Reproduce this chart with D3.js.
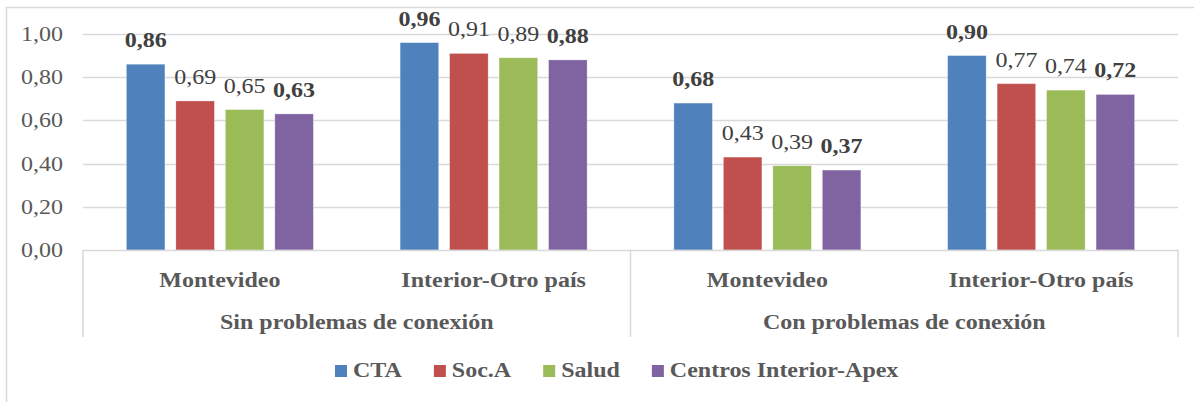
<!DOCTYPE html>
<html>
<head>
<meta charset="utf-8">
<script src="https://cdn.jsdelivr.net/npm/d3@7"></script>
<style>
  html, body { margin: 0; padding: 0; background: #fff; }
  svg { display: block; }
</style>
</head>
<body>
<svg id="chart" width="1194" height="402"></svg>
<script>
// ---- data ----
const groups = ["Sin problemas de conexión", "Con problemas de conexión"];
const categories = ["Montevideo", "Interior-Otro país"];
const series = ["CTA", "Soc.A", "Salud", "Centros Interior-Apex"];
const colors = ["#4f81bd", "#c0504d", "#9bbb59", "#8064a2"];
const boldSeries = [true, false, false, true];
// values per series, ordered: [Sin/Montevideo, Sin/Interior, Con/Montevideo, Con/Interior]
const ctaValues = [0.86, 0.96, 0.68, 0.90];
const socaValues = [0.69, 0.91, 0.43, 0.77];
const saludValues = [0.65, 0.89, 0.39, 0.74];
const centrosValues = [0.63, 0.88, 0.37, 0.72];
const yTicks = [0, 0.2, 0.4, 0.6, 0.8, 1.0];

const seriesValues = [ctaValues, socaValues, saludValues, centrosValues];
const cells = [];
groups.forEach((g, gi) => categories.forEach((c, ci) => cells.push({ key: g + "|" + c, group: g, cat: c, idx: gi * 2 + ci })));

// ---- layout ----
const svg = d3.select("#chart");
const pLeft = 83, pRight = 1178, pTop = 34, pBottom = 250;
const SX = 1.2; // horizontal stretch of text seen in reference
const FONT = "'Liberation Serif', 'Times New Roman', serif";
const fmt = v => d3.format(".2f")(v).replace(".", ",");

const x0 = d3.scaleBand().domain(cells.map(d => d.key)).range([pLeft, pRight]).paddingInner(0.277).paddingOuter(0.1385);
const x1 = d3.scaleBand().domain(series).range([0, x0.bandwidth()]).paddingInner(0.222).paddingOuter(0.111);
const xg = d3.scaleBand().domain(groups).range([pLeft, pRight]);
const y = d3.scaleLinear().domain([0, 1]).range([pBottom, pTop]);

function stext(sel, x, yy, str, opts) {
  return sel.append("text")
    .attr("transform", `translate(${x},${yy}) scale(${SX},1)`)
    .attr("text-anchor", opts.anchor || "middle")
    .attr("font-family", FONT)
    .attr("font-size", opts.size || 20)
    .attr("font-weight", opts.bold ? "bold" : "normal")
    .attr("fill", opts.fill || "#404040")
    .text(str);
}

// outer frame (top and left visible)
svg.append("path").attr("d", "M6.5,402 L6.5,7.5 L1194,7.5").attr("fill", "none").attr("stroke", "#d9d9d9").attr("stroke-width", 1.5);

// gridlines
svg.append("g").selectAll("line").data(yTicks.filter(t => t > 0)).join("line")
  .attr("x1", pLeft).attr("x2", pRight)
  .attr("y1", d => Math.round(y(d)) + 0.5).attr("y2", d => Math.round(y(d)) + 0.5)
  .attr("stroke", "#d9d9d9").attr("stroke-width", 1.5);

// y tick labels
const yLab = svg.append("g");
yTicks.forEach(t => stext(yLab, 63, y(t) + 7, fmt(t), { anchor: "end", fill: "#595959" }));

// bars
const barG = svg.append("g");
series.forEach((s, si) => {
  barG.selectAll(null).data(cells).join("rect")
    .attr("x", d => x0(d.key) + x1(s))
    .attr("y", d => y(seriesValues[si][d.idx]))
    .attr("width", x1.bandwidth())
    .attr("height", d => y(0) - y(seriesValues[si][d.idx]))
    .attr("fill", colors[si])
    .attr("stroke", "#ffffff").attr("stroke-opacity", 0.35).attr("stroke-width", 0.75);
});

// value labels
const valG = svg.append("g");
series.forEach((s, si) => {
  cells.forEach(d => {
    const v = seriesValues[si][d.idx];
    stext(valG, x0(d.key) + x1(s) + x1.bandwidth() / 2, y(v) - 17, fmt(v), { bold: boldSeries[si], fill: "#404040" });
  });
});

// category axis box
const axG = svg.append("g").attr("stroke", "#d9d9d9").attr("stroke-width", 1.5);
axG.append("line").attr("x1", pLeft).attr("x2", pRight).attr("y1", pBottom + 0.5).attr("y2", pBottom + 0.5);
const seps = [pLeft].concat(groups.map(g => xg(g) + xg.bandwidth()));
axG.selectAll("line.sep").data(seps).join("line").attr("class", "sep")
  .attr("x1", d => d).attr("x2", d => d).attr("y1", pBottom).attr("y2", 337);

// category labels
const catG = svg.append("g");
cells.forEach(d => stext(catG, x0(d.key) + x0.bandwidth() / 2, 287, d.cat, { bold: true, fill: "#595959" }));
groups.forEach(g => stext(catG, xg(g) + xg.bandwidth() / 2, 329, g, { bold: true, fill: "#595959" }));

// legend
const leg = svg.append("g");
let lx = 335;
series.forEach((s, si) => {
  leg.append("rect").attr("x", lx).attr("y", 365).attr("width", 12).attr("height", 12).attr("fill", colors[si]);
  const t = stext(leg, lx + 18, 377, s, { anchor: "start", bold: true, fill: "#595959" });
  const w = t.node().getComputedTextLength() * SX;
  lx += 18 + w + 32;
});
</script>
</body>
</html>
